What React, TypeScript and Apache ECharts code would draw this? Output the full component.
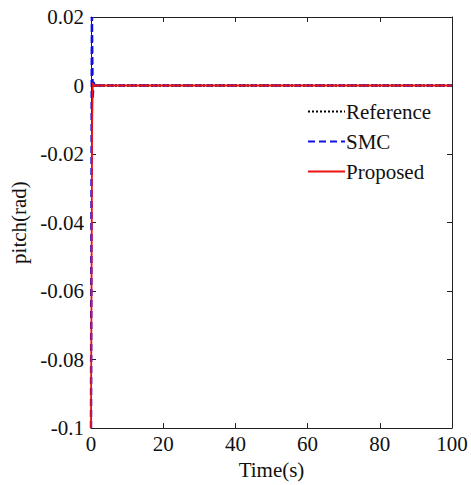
import React, { useEffect, useRef } from "react";
import * as echarts from "echarts";

// Time samples (s) and pitch responses (rad)
const refTime = [0, 100];
const refPitch = [0, 0];

const smcTime = [0, 0.25, 0.45, 0.7, 1.0, 1.5, 100];
const smcPitch = [-0.1, 0.02, -0.004, 0.001, -0.0003, 0, 0];

const propTime = [0, 0.3, 0.5, 0.8, 1.2, 100];
const propPitch = [-0.1, -0.012, 0.0008, -0.0002, 0, 0];

const xTicks = [0, 20, 40, 60, 80, 100];
const yTicks = [-0.1, -0.08, -0.06, -0.04, -0.02, 0, 0.02];

const FONT = "'Liberation Serif', 'Times New Roman', serif";

const pair = (t: number[], v: number[]) => t.map((x, i) => [x, v[i]]);

export default function App() {
  const ref = useRef<HTMLDivElement>(null);

  useEffect(() => {
    if (!ref.current) return;
    const chart = echarts.init(ref.current, null, { renderer: "svg" });

    const axisLine = { show: true, onZero: false, lineStyle: { color: "#222", width: 1 } };
    const tick = { show: true, inside: true, length: 5, lineStyle: { color: "#222" } };
    const xBase = {
      type: "value" as const,
      min: xTicks[0],
      max: xTicks[xTicks.length - 1],
      interval: 20,
      splitLine: { show: false },
      axisLine,
      axisTick: tick,
    };
    const yBase = {
      type: "value" as const,
      min: yTicks[0],
      max: yTicks[yTicks.length - 1],
      interval: 0.02,
      splitLine: { show: false },
      axisLine,
      axisTick: tick,
    };

    chart.setOption({
      animation: false,
      backgroundColor: "#fff",
      grid: { left: 90, right: 19, top: 17, bottom: 56 },
      xAxis: [
        {
          ...xBase,
          position: "bottom",
          name: "Time(s)",
          nameLocation: "middle",
          nameGap: 25,
          nameTextStyle: { fontFamily: FONT, fontSize: 21, color: "#111" },
          axisLabel: { fontFamily: FONT, fontSize: 21, color: "#111", margin: 5 },
        },
        { ...xBase, position: "top", axisLabel: { show: false } },
      ],
      yAxis: [
        {
          ...yBase,
          position: "left",
          name: "pitch(rad)",
          nameLocation: "middle",
          nameGap: 62,
          nameTextStyle: { fontFamily: FONT, fontSize: 21, color: "#111" },
          axisLabel: {
            fontFamily: FONT,
            fontSize: 21,
            color: "#111",
            margin: 7,
            formatter: (v: number) => String(parseFloat(v.toFixed(2))),
          },
        },
        { ...yBase, position: "right", axisLabel: { show: false } },
      ],
      legend: {
        orient: "vertical",
        left: 302,
        top: 96,
        padding: 5,
        itemWidth: 37,
        itemHeight: 14,
        itemGap: 9,
        itemStyle: { opacity: 0 },
        textStyle: { fontFamily: FONT, fontSize: 21, color: "#111", padding: [0, 0, 0, -4] },
        data: ["Reference", "SMC", "Proposed"],
      },
      series: [
        {
          name: "Reference",
          type: "line",
          data: pair(refTime, refPitch),
          symbol: "none",
          lineStyle: { color: "#000", width: 2.5, type: [2, 2] },
          itemStyle: { color: "#000" },
        },
        {
          name: "SMC",
          type: "line",
          data: pair(smcTime, smcPitch),
          symbol: "none",
          lineStyle: { color: "#1010e0", width: 2.5, type: [7, 4] },
          itemStyle: { color: "#1010e0" },
        },
        {
          name: "Proposed",
          type: "line",
          data: pair(propTime, propPitch),
          symbol: "none",
          lineStyle: { color: "#ee1111", width: 1.8 },
          itemStyle: { color: "#ee1111" },
        },
      ],
    });

    return () => chart.dispose();
  }, []);

  return (
    <div
      ref={ref}
      style={{ position: "fixed", left: 0, top: 0, width: 471, height: 485 }}
    />
  );
}
